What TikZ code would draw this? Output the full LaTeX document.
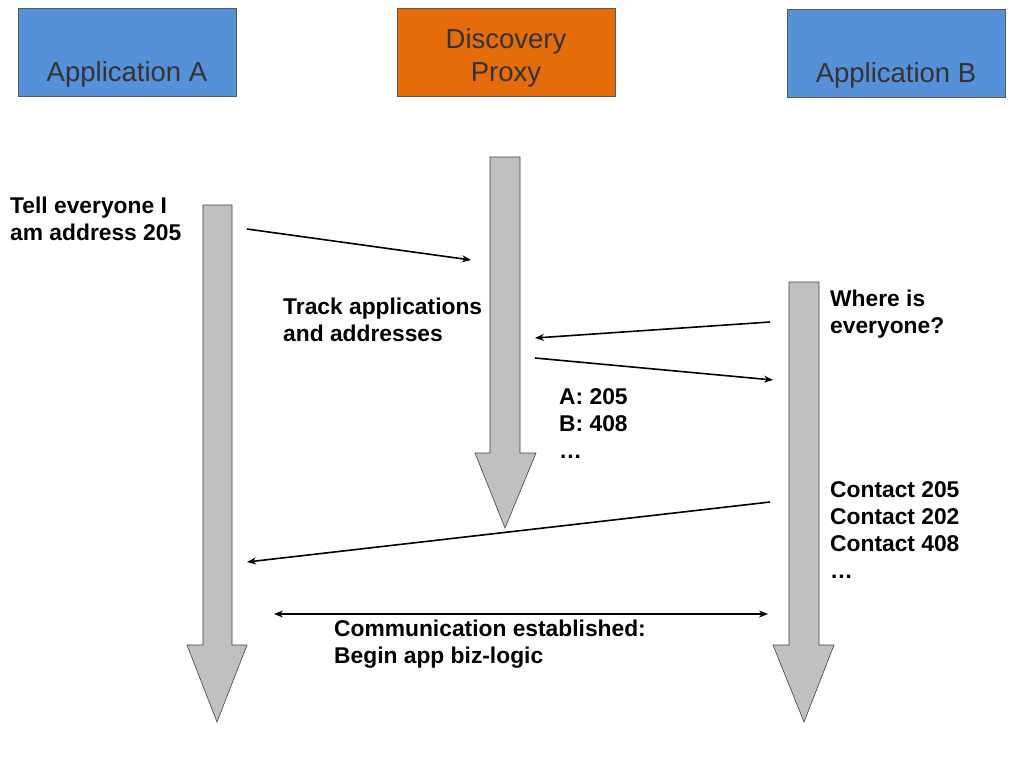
\documentclass[tikz,border=0pt]{standalone}
\usepackage{fontspec}
\setmainfont{Liberation Sans}
\usetikzlibrary{positioning}
\definecolor{appblue}{HTML}{5690D8}
\definecolor{proxyorange}{HTML}{E46C0A}
\definecolor{lanegray}{HTML}{C0C0C0}
\tikzset{
  actor/.style={draw=gray!70!black, minimum width=218pt, minimum height=88pt},
  boxtext/.style={font=\fontsize{27.5}{33}\selectfont, align=center, text=black!80, inner sep=0pt},
  lane/.style={draw=gray!50!black, fill=lanegray, line width=0.6pt},
  msg/.style={-{Stealth[length=9pt,width=7pt]}, line width=1.6pt},
  note/.style={font=\bfseries\fontsize{22.8}{27}\selectfont, align=left, anchor=north west, inner sep=0pt}
}
\usetikzlibrary{arrows.meta}
\begin{document}
\begin{tikzpicture}[x=1pt,y=-1pt]
  \useasboundingbox (0,0) rectangle (1024,768);
  % actors
  \node[actor, fill=appblue] (appA) at (127,52) {};
  \node[actor, fill=proxyorange] (proxy) at (506,52) {};
  \node[actor, fill=appblue] (appB) at (896,53) {};
  \node[boxtext] (appAtext) at (127,74) {Application A};
  \node[boxtext] (proxytext) at (506,58) {Discovery\\Proxy};
  \node[boxtext] (appBtext) at (896,75) {Application B};
  % lanes
  \draw[lane] (203,205) -- (232,205) -- (232,645) -- (247,645) -- (217,722) -- (187,645) -- (203,645) -- cycle;
  \draw[lane] (490,157) -- (520,157) -- (520,453) -- (536,453) -- (505,528) -- (475,453) -- (490,453) -- cycle;
  \draw[lane] (789,282) -- (819,282) -- (819,645) -- (834,645) -- (804,722) -- (773,645) -- (789,645) -- cycle;
  % anchor points for messages
  \coordinate (a1) at (247,229);
  \coordinate (p1) at (471,260);
  \coordinate (b1) at (770,322);
  \coordinate (p2) at (535,338);
  \coordinate (p3) at (535,358);
  \coordinate (b2) at (773,380);
  \coordinate (b3) at (770,502);
  \coordinate (a2) at (247,562);
  \coordinate (a3) at (274,614);
  \coordinate (b4) at (768,614);
  % messages
  \draw[msg] (a1) -- (p1);
  \draw[msg] (b1) -- (p2);
  \draw[msg] (p3) -- (b2);
  \draw[msg] (b3) -- (a2);
  \draw[msg, {Stealth[length=9pt,width=7pt]}-{Stealth[length=9pt,width=7pt]}] (a3) -- (b4);
  % notes
  \node[note] (tell) at (10,197) {Tell everyone I\\am address 205};
  \node[note] (track) at (283,298) {Track applications\\and addresses};
  \node[note] (where) at (830,290) {Where is\\everyone?};
  \node[note] (table) at (559,388) {A: 205\\B: 408\\\dots};
  \node[note] (contact) at (830,481) {Contact 205\\Contact 202\\Contact 408\\\dots};
  \node[note] (comm) at (334,620) {Communication established:\\Begin app biz-logic};
\end{tikzpicture}
\end{document}
